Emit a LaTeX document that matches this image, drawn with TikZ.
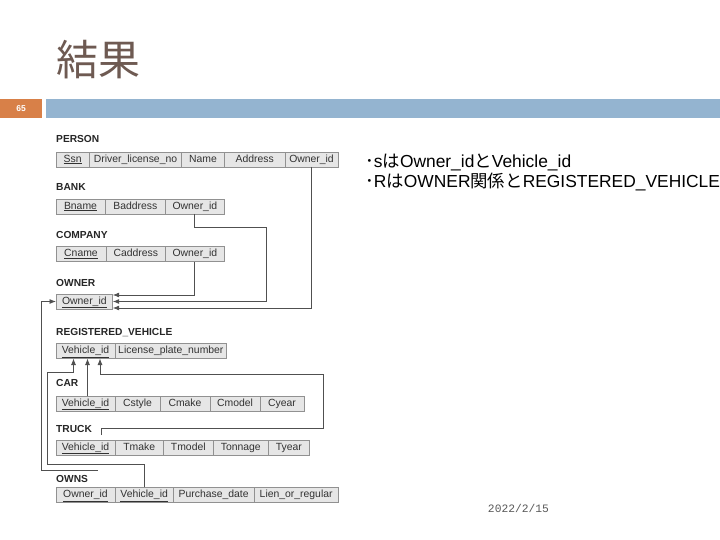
\documentclass[tikz,border=0pt]{standalone}
\usepackage{fontspec}
\setmainfont{Liberation Sans}
\newfontfamily\jpfont{Noto Sans CJK JP}
\newfontfamily\datefont{Liberation Mono}
\newcommand\jp[1]{{\jpfont #1}}
\usetikzlibrary{arrows.meta,positioning}

\definecolor{titlebrown}{RGB}{110,90,82}
\definecolor{slideorange}{RGB}{216,128,72}
\definecolor{slideblue}{RGB}{148,180,208}
\definecolor{cellfill}{RGB}{230,230,230}
\definecolor{cellline}{RGB}{145,145,145}
\definecolor{wire}{RGB}{80,80,80}
\definecolor{celltext}{RGB}{50,50,50}

\tikzset{
>={Latex[width=5bp,length=6.5bp]},
	cell/.style={
		rectangle,
		sharp corners,
		fill=cellfill,
		draw=cellline, line width=0.7bp,
		minimum height=15bp,
		inner xsep=1bp, inner ysep=0pt,
		outer sep=0pt,
		text height=7.6bp, text depth=2.2bp,
		text=celltext,
		font=\fontsize{10.4bp}{12bp}\selectfont},
	tlabel/.style={
		inner sep=0pt,
		anchor=west,
		text height=7.4bp, text depth=0pt,
		text=black!85,
		font=\fontsize{10.2bp}{12bp}\selectfont\bfseries},
	link/.style={
		draw=wire,
		line width=0.85bp},
	note/.style={
		anchor=west,
		inner sep=0pt,
		font=\fontsize{17.4bp}{20bp}\selectfont}
}

\begin{document}
\begin{tikzpicture}[x=1bp, y=-1bp]
\useasboundingbox[fill=white] (0,0) rectangle (720,540);

% slide header
\node[anchor=west, inner sep=0pt, text=titlebrown, font=\jpfont\fontsize{42bp}{46bp}\selectfont] (title) at (56.5,60) {結果};
\node[fill=slideorange, anchor=north west, minimum width=41.7bp, minimum height=19bp, inner sep=0pt, text=white, font=\fontsize{8.5bp}{10bp}\selectfont\bfseries] (page-no) at (0,99.3) {65};
\node[fill=slideblue, anchor=north west, minimum width=674.3bp, minimum height=19bp, inner sep=0pt] (title-bar) at (45.7,99.3) {};

% PERSON
\node[tlabel] (person-label) at (56,139) {PERSON};
\node[cell, minimum width=33.3bp, anchor=west] (person-ssn) at (56,159.5) {\underline{Ssn}};
\node[cell, minimum width=92.4bp, right=0pt of person-ssn] (person-dl) {Driver\_license\_no};
\node[cell, minimum width=42.6bp, right=0pt of person-dl] (person-name) {Name};
\node[cell, minimum width=60.7bp, right=0pt of person-name] (person-addr) {Address};
\node[cell, minimum width=53bp, right=0pt of person-addr] (person-oid) {Owner\_id};

% BANK
\node[tlabel] (bank-label) at (56,187) {BANK};
\node[cell, minimum width=49bp, anchor=west] (bank-name) at (56,206.5) {\underline{Bname}};
\node[cell, minimum width=60.7bp, right=0pt of bank-name] (bank-addr) {Baddress};
\node[cell, minimum width=58.3bp, right=0pt of bank-addr] (bank-oid) {Owner\_id};

% COMPANY
\node[tlabel] (company-label) at (56,235) {COMPANY};
\node[cell, minimum width=50bp, anchor=west] (company-name) at (56,254) {\underline{Cname}};
\node[cell, minimum width=59.7bp, right=0pt of company-name] (company-addr) {Caddress};
\node[cell, minimum width=58.3bp, right=0pt of company-addr] (company-oid) {Owner\_id};

% OWNER
\node[tlabel] (owner-label) at (56,283) {OWNER};
\node[cell, minimum width=56.7bp, anchor=west] (owner-oid) at (56,301.5) {\underline{Owner\_id}};

% REGISTERED_VEHICLE
\node[tlabel] (reg-label) at (56,331.5) {REGISTERED\_VEHICLE};
\node[cell, minimum width=59bp, anchor=west] (reg-vid) at (56,351) {\underline{Vehicle\_id}};
\node[cell, minimum width=111.7bp, right=0pt of reg-vid] (reg-plate) {License\_plate\_number};

% CAR
\node[tlabel] (car-label) at (56,383) {CAR};
\node[cell, minimum width=59bp, anchor=west] (car-vid) at (56,403.5) {\underline{Vehicle\_id}};
\node[cell, minimum width=45bp, right=0pt of car-vid] (car-style) {Cstyle};
\node[cell, minimum width=50bp, right=0pt of car-style] (car-make) {Cmake};
\node[cell, minimum width=50bp, right=0pt of car-make] (car-model) {Cmodel};
\node[cell, minimum width=44bp, right=0pt of car-model] (car-year) {Cyear};

% TRUCK
\node[tlabel] (truck-label) at (56,428.3) {TRUCK};
\node[cell, minimum width=59bp, anchor=west] (truck-vid) at (56,447.5) {\underline{Vehicle\_id}};
\node[cell, minimum width=48.3bp, right=0pt of truck-vid] (truck-make) {Tmake};
\node[cell, minimum width=50bp, right=0pt of truck-make] (truck-model) {Tmodel};
\node[cell, minimum width=55bp, right=0pt of truck-model] (truck-ton) {Tonnage};
\node[cell, minimum width=41bp, right=0pt of truck-ton] (truck-year) {Tyear};

% OWNS
\node[cell, minimum width=59bp, anchor=west] (owns-oid) at (56,494.8) {\underline{Owner\_id}};
\node[cell, minimum width=58.3bp, right=0pt of owns-oid] (owns-vid) {\underline{Vehicle\_id}};
\node[cell, minimum width=80.7bp, right=0pt of owns-vid] (owns-date) {Purchase\_date};
\node[cell, minimum width=84.3bp, right=0pt of owns-date] (owns-lien) {Lien\_or\_regular};

% foreign keys to OWNER
\coordinate (bank-turn) at (266.7,227.7);
\draw[link,->] (person-oid.south) |- ([yshift=-6.5bp]owner-oid.east);
\draw[link,->] (bank-oid.south) |- (bank-turn) |- (owner-oid.east);
\draw[link,->] (company-oid.south) |- ([yshift=6.5bp]owner-oid.east);

\coordinate (owns-left) at (41,470);
\draw[link,->] ([xshift=11.5bp]owns-oid.north) |- (owns-left) |- (owner-oid.west);

% foreign keys to REGISTERED_VEHICLE
\coordinate (ownsv-low) at (47,464);
\coordinate (ownsv-high) at (47,372.3);
\draw[link,->] (owns-vid.north) |- (ownsv-low) -- (ownsv-high) -| ([xshift=-12bp]reg-vid.south);
\draw[link,->] ([xshift=2bp]car-vid.north) -- ([xshift=2bp]reg-vid.south);

\coordinate (truck-stub) at (101.7,435);
\coordinate (truck-right) at (323.3,428.3);
\coordinate (truck-top) at (323.3,374);
\draw[link,->] (truck-stub) |- (truck-right) -- (truck-top) -| ([xshift=14.5bp]reg-vid.south);

% label on top of the OWNS line
\node[tlabel, fill=white, text width=42.3bp, minimum height=16bp] (owns-label) at (56,479) {OWNS};

% notes
\node[note] (note-s) at (365,162) {\jp{･}s\jp{は}Owner\_id\jp{と}Vehicle\_id};
\node[note] (note-r) at (365,182) {\jp{･}R\jp{は}OWNER\jp{関係と}REGISTERED\_VEHICLE};

\node[text=black!65, font=\datefont\fontsize{11.3bp}{13bp}\selectfont] (date) at (518.5,508) {2022/2/15};
\end{tikzpicture}
\end{document}
